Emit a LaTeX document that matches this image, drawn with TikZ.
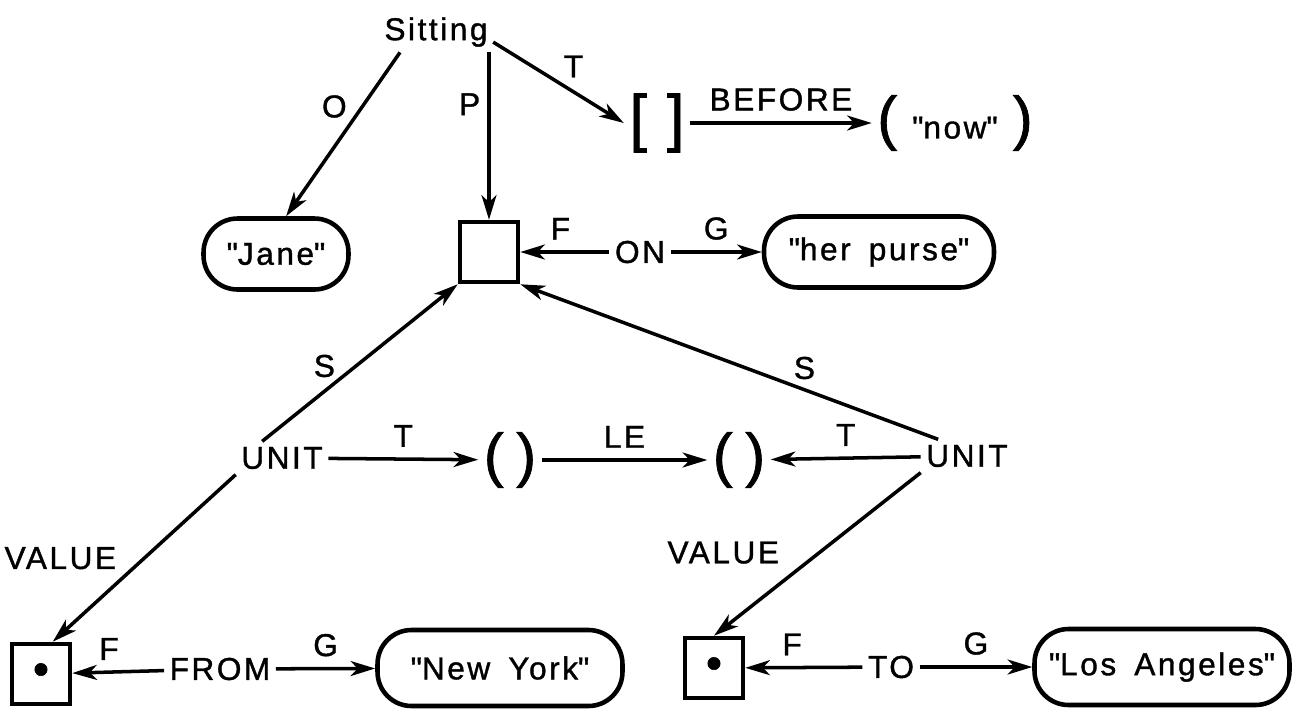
\documentclass[tikz,border=0pt]{standalone}
\usepackage{fontspec}
\setmainfont{Liberation Sans}[LetterSpace=8,WordSpace=1.6,FakeBold=1.2]
\usetikzlibrary{positioning,arrows.meta}
\newcommand\tallp[1]{{\fontsize{34}{34}\selectfont #1}}
\newcommand\qq{\textquotedbl}

\begin{document}
\begin{tikzpicture}[
    x=0.02cm, y=-0.02cm,
    font=\fontsize{18}{20}\selectfont,
    every edge/.style={draw, line width=2pt},
    arr/.style={-{Stealth[length=14pt,width=8.5pt,inset=4pt]}},
    lbl/.style={inner sep=6pt},
    word/.style={inner sep=3pt},
    strbox/.style={draw,line width=2.6pt,rounded corners=0.68cm,minimum height=1.42cm,inner xsep=6pt},
    slot/.style={draw,line width=2.6pt,minimum width=1.16cm,minimum height=1.2cm,inner sep=0pt}
    ]
  \useasboundingbox (0,0) rectangle (1296,708);

  \node[word] (sit) at (436,32) {Sitting};
  \node[strbox, minimum width=2.9cm] (jane) at (276,254) {\qq Jane\qq};
  \node[slot] (sq) at (489,252) {};
  \node[word] (brk) at (657,123) {\fontsize{36}{36}\selectfont[\hspace{0.4cm}]};
  \node[word] (now) at (955,123) {\tallp{(}\hspace{0.3cm}\qq now\qq\hspace{0.3cm}\tallp{)}};
  \node[word] (on) at (640,252) {ON};
  \node[strbox, minimum width=4.6cm] (purse) at (879,252) {\qq her purse\qq};

  \node[word] (ul) at (282,458) {UNIT};
  \node[word] (lp) at (510,460) {\tallp{(}\hspace{0.25cm}\tallp{)}};
  \node[word] (rp) at (739,460) {\tallp{(}\hspace{0.25cm}\tallp{)}};
  \node[word] (ur) at (967,456) {UNIT};

  \node[slot] (d1) at (41,674) {\fontsize{26}{26}\selectfont\textbullet};
  \node[word] (from) at (220,669) {FROM};
  \node[strbox, minimum width=4.9cm, minimum height=1.52cm] (ny) at (500,668) {\qq New York\qq};
  \node[slot] (d2) at (714,668) {\fontsize{26}{26}\selectfont\textbullet};
  \node[word] (to) at (891,667) {TO};
  \node[strbox, minimum width=5.1cm, minimum height=1.52cm] (la) at (1162,667) {\qq Los Angeles\qq};

  \path ([xshift=-0.72cm]sit.south) edge[arr] node[lbl, left, pos=0.33, inner sep=8pt] {O} (jane.75)
  (sit.south -| sq) edge[arr] node[lbl, left, pos=0.31, inner sep=4pt] {P} (sq)
  (sit.-10) edge[arr] node[lbl, above right, pos=0.5, inner sep=2pt] {T} (brk.west)
  (brk) edge[arr] node[lbl, above] {BEFORE} (now)
  (on) edge[arr] node[lbl, above, pos=0.55] {F} (sq)
  (on) edge[arr] node[lbl, above] {G} (purse)
  (ul.140) edge[arr] node[lbl, left, pos=0.48, inner sep=11pt] {S} (sq.south west)
  (ur.150) edge[arr] node[lbl, above, pos=0.32, inner sep=5pt] {S} (sq.south east)
  (ul) edge[arr] node[lbl, above] {T} (lp)
  (lp) edge[arr] node[lbl, above] {LE} (rp)
  (ur) edge[arr] node[lbl, above] {T} (rp)
  (ul.south west) edge[arr] node[lbl, left, pos=0.5, inner sep=15pt] {VALUE} (d1.70)
  (ur.south west) edge[arr] node[lbl, left, pos=0.49, inner sep=22pt] {VALUE} (d2.north)
  (from) edge[arr] node[lbl, above, pos=0.6] {F} (d1)
  (from) edge[arr] node[lbl, above] {G} (ny)
  (to) edge[arr] node[lbl, above, pos=0.6] {F} (d2)
  (to) edge[arr] node[lbl, above] {G} (la)
  ;

\end{tikzpicture}
\end{document}
